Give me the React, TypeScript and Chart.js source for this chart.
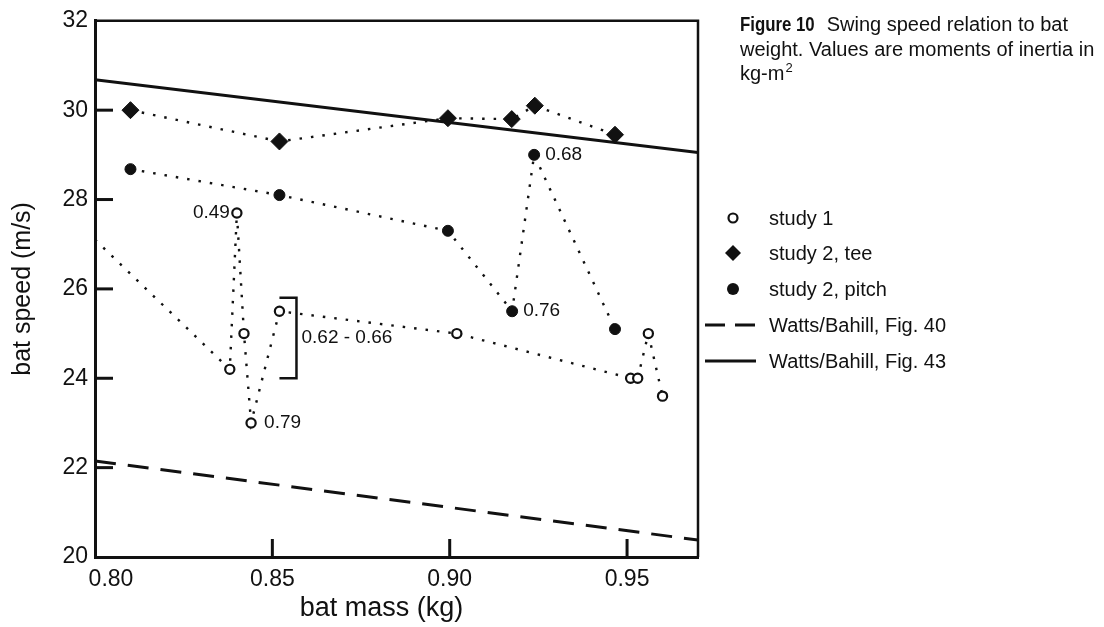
import React, { useEffect, useRef } from "react";
import { Chart, registerables } from "chart.js";

Chart.register(...registerables);

const FONT = '"Liberation Sans", Arial, Helvetica, sans-serif';

// ---- axes ----
const xTickValues = [0.8, 0.85, 0.9, 0.95];
const xTickLabels = ["0.80", "0.85", "0.90", "0.95"];
const yTickValues = [20, 22, 24, 26, 28, 30, 32];
const yTickLabels = ["20", "22", "24", "26", "28", "30", "32"];
const xMin = 0.8;
const xMax = 0.97;
const yMin = 20;
const yMax = 32;

// ---- study 1 (open circles); first entry is where the dotted trace enters the frame ----
const study1Mass = [0.8, 0.838, 0.84, 0.842, 0.844, 0.852, 0.902, 0.951, 0.953, 0.956, 0.96];
const study1Speed = [27.1, 24.2, 27.7, 25.0, 23.0, 25.5, 25.0, 24.0, 24.0, 25.0, 23.6];
const study1Labels = ["", "", "0.49", "", "0.79", "", "", "", "", "", ""];

// ---- study 2, tee (diamonds) ----
const teeMass = [0.81, 0.852, 0.8995, 0.9175, 0.924, 0.9466];
const teeSpeed = [30.0, 29.3, 29.82, 29.8, 30.1, 29.45];

// ---- study 2, pitch (filled circles) ----
const pitchMass = [0.81, 0.852, 0.8995, 0.9176, 0.9238, 0.9466];
const pitchSpeed = [28.68, 28.1, 27.3, 25.5, 29.0, 25.1];
const pitchLabels = ["", "", "", "0.76", "0.68", ""];

// ---- Watts/Bahill reference lines ----
const fig40Mass = [0.8, 0.97];
const fig40Speed = [22.15, 20.38];
const fig43Mass = [0.8, 0.97];
const fig43Speed = [30.68, 29.05];

// ---- bracket marking the 0.62 - 0.66 group ----
const bracketMass = [0.852, 0.8568, 0.8568, 0.852];
const bracketSpeed = [25.8, 25.8, 24.0, 24.0];
const bracketLabel = "0.62 - 0.66";

// ---- text ----
const captionBold = "Figure 10";
const captionLines = ["Swing speed relation to bat", "weight. Values are moments of inertia in", "kg-m"];
const captionSup = "2";
const legendLabels = ["study 1", "study 2, tee", "study 2, pitch", "Watts/Bahill, Fig. 40", "Watts/Bahill, Fig. 43"];
const xTitle = "bat mass (kg)";
const yTitle = "bat speed (m/s)";

const pts = (xs: number[], ys: number[]) => xs.map((x, i) => ({ x, y: ys[i] }));

const INK = "#111";

const decorPlugin = {
  id: "decor",
  afterDatasetsDraw(chart: any) {
    const { ctx, chartArea } = chart;
    const xs = chart.scales.x;
    const ys = chart.scales.y;
    ctx.save();
    ctx.fillStyle = INK;
    ctx.font = `19px ${FONT}`;
    ctx.textBaseline = "middle";
    study1Labels.forEach((t, i) => {
      if (!t) return;
      const px = xs.getPixelForValue(study1Mass[i]);
      const py = ys.getPixelForValue(study1Speed[i]);
      if (i === 2) {
        ctx.textAlign = "right";
        ctx.fillText(t, px - 7, py);
      } else {
        ctx.textAlign = "left";
        ctx.fillText(t, px + 13, py);
      }
    });
    pitchLabels.forEach((t, i) => {
      if (!t) return;
      const px = xs.getPixelForValue(pitchMass[i]);
      const py = ys.getPixelForValue(pitchSpeed[i]);
      ctx.textAlign = "left";
      ctx.fillText(t, px + 11, py);
    });
    const bx = xs.getPixelForValue(bracketMass[1]);
    const by = ys.getPixelForValue((bracketSpeed[1] + bracketSpeed[2]) / 2);
    ctx.textAlign = "left";
    ctx.fillText(bracketLabel, bx + 5, by);

    // top & right frame
    ctx.strokeStyle = INK;
    ctx.lineWidth = 2.5;
    ctx.beginPath();
    ctx.moveTo(chartArea.left, chartArea.top);
    ctx.lineTo(chartArea.right, chartArea.top);
    ctx.lineTo(chartArea.right, chartArea.bottom);
    ctx.stroke();

    // inward tick marks
    ctx.lineWidth = 3;
    xTickValues.forEach((v) => {
      if (v === xMin) return;
      const px = xs.getPixelForValue(v);
      ctx.beginPath();
      ctx.moveTo(px, chartArea.bottom);
      ctx.lineTo(px, chartArea.bottom - 18);
      ctx.stroke();
    });
    yTickValues.forEach((v) => {
      if (v === yMin || v === yMax) return;
      const py = ys.getPixelForValue(v);
      ctx.beginPath();
      ctx.moveTo(chartArea.left, py);
      ctx.lineTo(chartArea.left + 18, py);
      ctx.stroke();
    });
    ctx.restore();
  },
  afterDraw(chart: any) {
    const { ctx } = chart;
    ctx.save();
    ctx.fillStyle = INK;
    ctx.strokeStyle = INK;
    ctx.textBaseline = "alphabetic";
    ctx.textAlign = "left";
    // caption
    const cx = 740;
    const squeeze = 0.84;
    ctx.font = `bold 20px ${FONT}`;
    const bw = ctx.measureText(captionBold).width * squeeze;
    ctx.save();
    ctx.translate(cx, 31);
    ctx.scale(squeeze, 1);
    ctx.fillText(captionBold, 0, 0);
    ctx.restore();
    ctx.font = `20px ${FONT}`;
    ctx.fillText(captionLines[0], cx + bw + 12, 31);
    ctx.fillText(captionLines[1], cx, 56);
    ctx.fillText(captionLines[2], cx, 80);
    const kw = ctx.measureText(captionLines[2]).width;
    ctx.font = `13px ${FONT}`;
    ctx.fillText(captionSup, cx + kw + 1, 72);

    // legend
    const symX = 733;
    const textX = 769;
    const rows = [218, 253, 289, 325, 361];
    ctx.font = `20px ${FONT}`;
    ctx.textBaseline = "middle";
    legendLabels.forEach((t, i) => ctx.fillText(t, textX, rows[i] + 1));
    ctx.lineWidth = 2.2;
    ctx.beginPath();
    ctx.arc(symX, rows[0], 4.5, 0, Math.PI * 2);
    ctx.fillStyle = "#fff";
    ctx.fill();
    ctx.stroke();
    ctx.fillStyle = INK;
    ctx.beginPath();
    ctx.moveTo(symX, rows[1] - 8);
    ctx.lineTo(symX + 8, rows[1]);
    ctx.lineTo(symX, rows[1] + 8);
    ctx.lineTo(symX - 8, rows[1]);
    ctx.closePath();
    ctx.fill();
    ctx.beginPath();
    ctx.arc(symX, rows[2], 6, 0, Math.PI * 2);
    ctx.fill();
    ctx.lineWidth = 3;
    ctx.setLineDash([20, 10]);
    ctx.beginPath();
    ctx.moveTo(705, rows[3]);
    ctx.lineTo(756, rows[3]);
    ctx.stroke();
    ctx.setLineDash([]);
    ctx.beginPath();
    ctx.moveTo(705, rows[4]);
    ctx.lineTo(756, rows[4]);
    ctx.stroke();
    ctx.restore();
  },
};

export default function App() {
  const ref = useRef<HTMLCanvasElement>(null);
  useEffect(() => {
    const dotted = [2.5, 9];
    const chart = new Chart(ref.current!, {
      type: "scatter",
      data: {
        datasets: [
          {
            label: legendLabels[1],
            data: pts(teeMass, teeSpeed),
            showLine: true,
            borderColor: INK,
            borderWidth: 2.4,
            borderDash: dotted,
            pointStyle: "rectRot",
            pointRadius: 8.5,
            pointBorderWidth: 1,
            pointBackgroundColor: INK,
            pointBorderColor: INK,
          },
          {
            label: legendLabels[2],
            data: pts(pitchMass, pitchSpeed),
            showLine: true,
            borderColor: INK,
            borderWidth: 2.4,
            borderDash: dotted,
            pointStyle: "circle",
            pointRadius: 5.5,
            pointBorderWidth: 1,
            pointBackgroundColor: INK,
            pointBorderColor: INK,
          },
          {
            label: legendLabels[0],
            data: pts(study1Mass, study1Speed),
            showLine: true,
            borderColor: INK,
            borderWidth: 2.4,
            borderDash: dotted,
            pointStyle: "circle",
            pointRadius: (c: any) => (c.dataIndex === 0 ? 0 : 4.6),
            pointBorderWidth: 2.2,
            pointBackgroundColor: "#fff",
            pointBorderColor: INK,
          },
          {
            label: bracketLabel,
            data: pts(bracketMass, bracketSpeed),
            showLine: true,
            borderColor: INK,
            borderWidth: 2.5,
            pointRadius: 0,
          },
          {
            label: legendLabels[4],
            data: pts(fig43Mass, fig43Speed),
            showLine: true,
            borderColor: INK,
            borderWidth: 3,
            pointRadius: 0,
          },
          {
            label: legendLabels[3],
            data: pts(fig40Mass, fig40Speed),
            showLine: true,
            borderColor: INK,
            borderWidth: 3,
            borderDash: [21, 12],
            pointRadius: 0,
          },
        ] as any,
      },
      options: {
        animation: false,
        responsive: false,
        devicePixelRatio: 1,
        layout: { padding: { left: 0, top: 20, right: 406, bottom: 0 } },
        plugins: { legend: { display: false }, tooltip: { enabled: false } },
        elements: { line: { tension: 0, borderCapStyle: "butt" } },
        scales: {
          x: {
            type: "linear",
            min: xMin,
            max: xMax,
            afterBuildTicks: (s: any) => {
              s.ticks = xTickValues.map((v) => ({ value: v }));
            },
            afterFit: (s: any) => {
              s.height = 70;
            },
            grid: { display: false, drawTicks: false },
            border: { display: true, width: 3, color: INK },
            ticks: {
              color: INK,
              padding: 9,
              autoSkip: false,
              maxRotation: 0,
              font: { family: FONT, size: 23 },
              callback: (_v: any, i: number) => (i === 0 ? "     " + xTickLabels[i] : xTickLabels[i]),
            },
            title: {
              display: true,
              text: xTitle + "    ",
              color: INK,
              font: { family: FONT, size: 27 },
              padding: { top: 0, bottom: 2 },
            },
          },
          y: {
            type: "linear",
            min: yMin,
            max: yMax,
            afterBuildTicks: (s: any) => {
              s.ticks = yTickValues.map((v) => ({ value: v }));
            },
            afterFit: (s: any) => {
              s.width = 95;
            },
            grid: { display: false, drawTicks: false },
            border: { display: true, width: 3, color: INK },
            ticks: {
              color: INK,
              padding: 7,
              autoSkip: false,
              font: { family: FONT, size: 23 },
              callback: (_v: any, i: number) => yTickLabels[i],
            },
            title: {
              display: true,
              text: yTitle,
              color: INK,
              font: { family: FONT, size: 25 },
              padding: { top: 8, bottom: 0 },
            },
          },
        },
      } as any,
      plugins: [decorPlugin],
    });
    return () => chart.destroy();
  }, []);
  return (
    <div style={{ position: "fixed", left: 0, top: 0, width: 1104, height: 627, background: "#fff" }}>
      <canvas ref={ref} width={1104} height={627} style={{ display: "block", width: 1104, height: 627 }} />
    </div>
  );
}
